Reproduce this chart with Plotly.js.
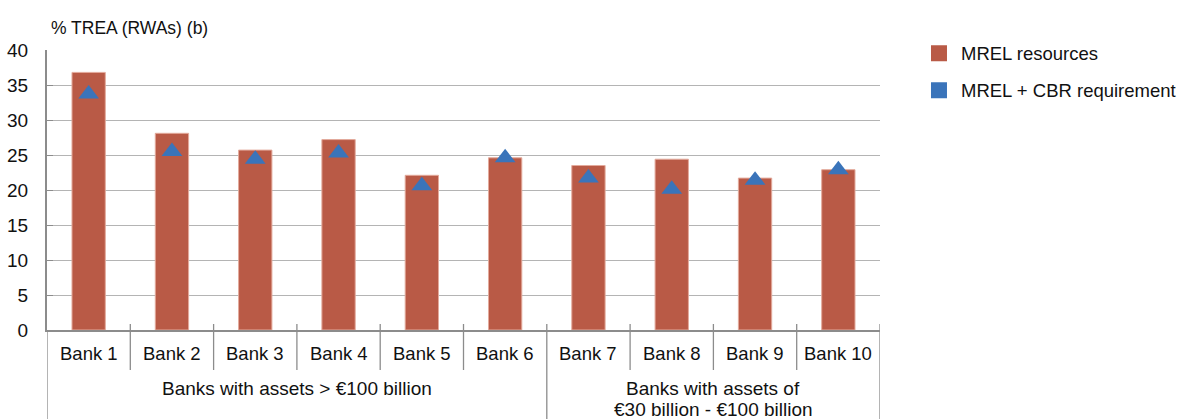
<!DOCTYPE html>
<html>
<head>
<meta charset="utf-8">
<script src="https://cdn.plot.ly/plotly-3.0.1.min.js"></script>
<style>
  html, body { margin: 0; padding: 0; background: #ffffff; }
  #chart { width: 1183px; height: 419px; }
</style>
</head>
<body>
<div id="chart"></div>
<script>
// ---- Data ----
const banks = ["Bank 1", "Bank 2", "Bank 3", "Bank 4", "Bank 5", "Bank 6", "Bank 7", "Bank 8", "Bank 9", "Bank 10"];
const mrelResources = [36.8, 28.1, 25.7, 27.2, 22.1, 24.6, 23.5, 24.4, 21.7, 22.9];
const mrelCbrRequirement = [33.7, 25.5, 24.4, 25.3, 20.6, 24.6, 21.7, 20.1, 21.4, 22.9];
const groupLabels = ["Banks with assets > €100 billion", "Banks with assets of<br>€30 billion - €100 billion"];
const groupSizes = [6, 4];
const seriesNames = ["MREL resources", "MREL + CBR requirement"];
const yTitle = "% TREA (RWAs) (b)";

// ---- Styles ----
const FONT = "Liberation Sans, Arial, Helvetica, sans-serif";
const BAR_COLOR = "#b95a46";
const TRI_COLOR = "#3a74ba";
const AXIS_COLOR = "#8c8c8c";
const GRID_COLOR = "#b4b4b4";
const TEXT_COLOR = "#111111";

const traces = [
  {
    type: "bar", x: banks, y: mrelResources, name: seriesNames[0],
    marker: { color: BAR_COLOR, line: { color: "#e3aa9c", width: 1 } },
    width: 0.4, showlegend: false, hoverinfo: "x+y"
  },
  {
    type: "scatter", mode: "markers", x: banks, y: mrelCbrRequirement, name: seriesNames[1],
    marker: { symbol: "triangle-up", size: 18, color: TRI_COLOR },
    showlegend: false, cliponaxis: false
  },
  // legend entries (square swatches)
  {
    type: "scatter", mode: "markers", x: [null], y: [null], name: seriesNames[0],
    marker: { symbol: "square", size: 16, color: BAR_COLOR }, legendgroup: "a", showlegend: true
  },
  {
    type: "scatter", mode: "markers", x: [null], y: [null], name: seriesNames[1],
    marker: { symbol: "square", size: 16, color: TRI_COLOR }, legendgroup: "b", showlegend: true
  }
];

// Category separators and group boundaries
const shapes = [];
const n = banks.length;
let boundaries = [0];
{ let acc = 0; groupSizes.forEach(s => { acc += s; boundaries.push(acc); }); }
for (let i = 0; i <= n; i++) {
  const isGroupEdge = boundaries.includes(i);
  shapes.push({
    type: "line", xref: "x", yref: "paper", ysizemode: "pixel", yanchor: 0,
    x0: i - 0.5, x1: i - 0.5, y0: (i === 0 ? 0 : 6), y1: isGroupEdge ? -92 : -40,
    line: { color: AXIS_COLOR, width: 1.3 }
  });
}

const annotations = [];
// Y-axis title
annotations.push({
  text: yTitle, xref: "paper", yref: "paper", x: 0.003, y: 1, yshift: 22,
  xanchor: "left", yanchor: "middle", showarrow: false,
  font: { family: FONT, size: 17.5, color: TEXT_COLOR }
});
// Bank labels
banks.forEach((b, i) => {
  annotations.push({
    text: b, xref: "x", yref: "paper", x: i, y: 0, yshift: -23,
    xanchor: "center", yanchor: "middle", showarrow: false,
    font: { family: FONT, size: 18.5, color: TEXT_COLOR }
  });
});
// Group labels (one annotation per line for tight line spacing)
{
  let start = 0;
  groupSizes.forEach((s, g) => {
    const center = start + (s - 1) / 2;
    groupLabels[g].split("<br>").forEach((line, k) => {
      annotations.push({
        text: line, xref: "x", yref: "paper", x: center, y: 0, yshift: -58 - 21.5 * k,
        xanchor: "center", yanchor: "middle", showarrow: false, align: "center",
        font: { family: FONT, size: 19, color: TEXT_COLOR }
      });
    });
    start += s;
  });
}

const layout = {
  width: 1183, height: 419,
  margin: { l: 47, r: 303, t: 50, b: 89, pad: 0, autoexpand: false },
  paper_bgcolor: "#ffffff", plot_bgcolor: "#ffffff",
  font: { family: FONT, size: 17, color: TEXT_COLOR },
  xaxis: {
    type: "category", range: [-0.5, n - 0.5], showticklabels: false,
    showgrid: false, zeroline: false, showline: true, linecolor: AXIS_COLOR, linewidth: 1.5,
    ticks: "", fixedrange: true
  },
  yaxis: {
    range: [0, 40], dtick: 5, tick0: 0, showgrid: true, gridcolor: GRID_COLOR, gridwidth: 1,
    zeroline: false, showline: true, linecolor: AXIS_COLOR, linewidth: 2,
    ticks: "inside", ticklen: 6, tickcolor: AXIS_COLOR, tickwidth: 1,
    ticklabelstandoff: 13,
    tickfont: { family: FONT, size: 19, color: TEXT_COLOR }, fixedrange: true
  },
  showlegend: true,
  legend: {
    x: 1.0444, xanchor: "left", y: 1.055, yanchor: "top",
    traceorder: "grouped", tracegroupgap: 10, itemwidth: 34,
    font: { family: FONT, size: 18.5, color: TEXT_COLOR },
    bgcolor: "rgba(0,0,0,0)"
  },
  shapes: shapes,
  annotations: annotations
};

Plotly.newPlot("chart", traces, layout, { displayModeBar: false, staticPlot: true });
</script>
</body>
</html>
